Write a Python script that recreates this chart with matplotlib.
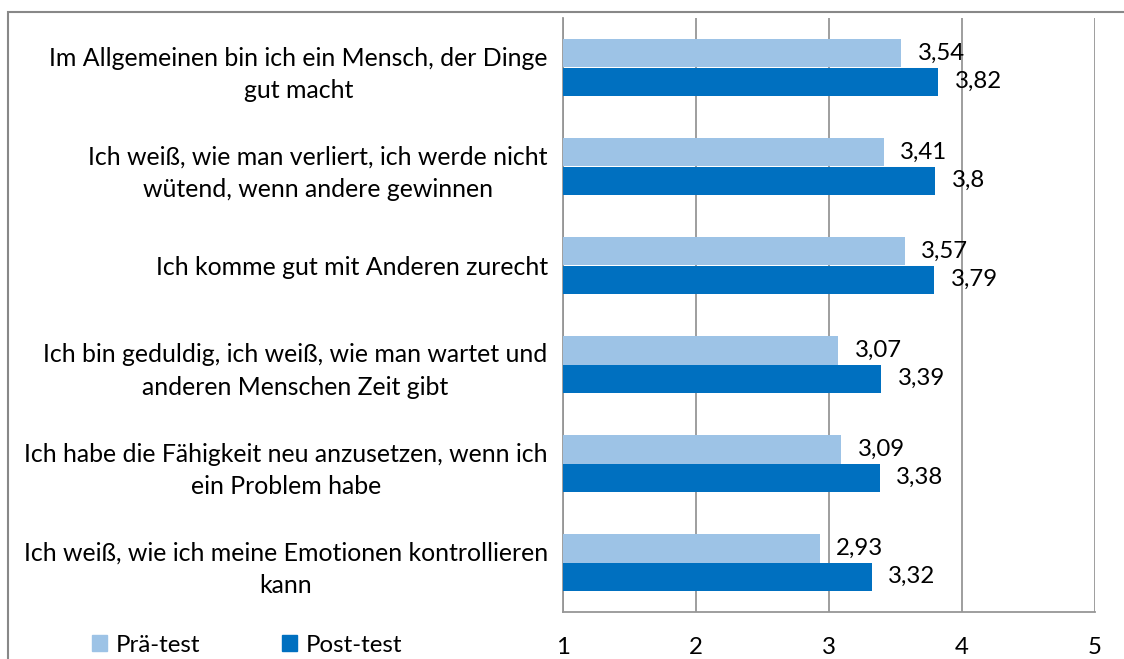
import matplotlib
matplotlib.use("Agg")
import matplotlib.pyplot as plt
from matplotlib.patches import Rectangle

categories = [
    "Im Allgemeinen bin ich ein Mensch, der Dinge\ngut macht",
    "Ich weiß, wie man verliert, ich werde nicht\nwütend, wenn andere gewinnen",
    "Ich komme gut mit Anderen zurecht",
    "Ich bin geduldig, ich weiß, wie man wartet und\nanderen Menschen Zeit gibt",
    "Ich habe die Fähigkeit neu anzusetzen, wenn ich\nein Problem habe",
    "Ich weiß, wie ich meine Emotionen kontrollieren\nkann",
]
pre_values = [3.54, 3.41, 3.57, 3.07, 3.09, 2.93]
post_values = [3.82, 3.80, 3.79, 3.39, 3.38, 3.32]
pre_labels = ["3,54", "3,41", "3,57", "3,07", "3,09", "2,93"]
post_labels = ["3,82", "3,8", "3,79", "3,39", "3,38", "3,32"]
series_names = ["Prä-test", "Post-test"]
x_ticks = [1, 2, 3, 4, 5]

pre_color = "#9DC3E6"
post_color = "#0070C0"
grid_color = "#969696"
FONT = "Lato"
FS = 17.3
FS_CAT = 17.9

plt.rcParams['font.family'] = [FONT, 'DejaVu Sans']

fig = plt.figure(figsize=(11.24, 6.59), dpi=100)
ax = fig.add_axes([563/1124, 1-612/659, (1095-563)/1124, (612-18)/659])

n = len(categories)
ypos = list(range(n))
h = 0.285
pre_y = [y - h/2 for y in ypos]
post_y = [y + h/2 for y in ypos]
ax.barh(pre_y, [v - 1 for v in pre_values], left=1, height=h, color=pre_color, zorder=3)
ax.barh(post_y, [v - 1 for v in post_values], left=1, height=h, color=post_color, zorder=3)

for y, v, t in zip(pre_y, pre_values, pre_labels):
    ax.text(v + 0.125, y, t, va="center", ha="left", fontsize=FS, color="black", zorder=4)
for y, v, t in zip(post_y, post_values, post_labels):
    ax.text(v + 0.125, y, t, va="center", ha="left", fontsize=FS, color="black", zorder=4)

ax.set_xlim(1, 5)
ax.set_ylim(n - 0.5, -0.5)
ax.set_xticks(x_ticks)
ax.set_xticklabels([str(t) for t in x_ticks], fontsize=FS)
ax.tick_params(axis="x", length=0, pad=18)
ax.set_yticks(ypos)
ax.set_yticklabels(categories, fontsize=FS_CAT, multialignment="center", linespacing=1.5)
ax.tick_params(axis="y", length=0, pad=11)
ax.grid(axis="x", color=grid_color, linewidth=1.3, zorder=0)
for s in ["top", "right"]:
    ax.spines[s].set_visible(False)
for s in ["left", "bottom"]:
    ax.spines[s].set_color(grid_color)
    ax.spines[s].set_linewidth(1.3)

# legend
handles = [Rectangle((0, 0), 1, 1, color=pre_color), Rectangle((0, 0), 1, 1, color=post_color)]
fig.legend(handles, series_names, loc="center left", bbox_to_anchor=(70/1124, 1-645/659),
           ncol=2, frameon=False, fontsize=FS, handlelength=0.65, handleheight=0.65,
           handletextpad=0.35, columnspacing=3.4)

# chart border
fig.patches.append(Rectangle((8/1124, -0.05), 1.1, 1-12/659+0.05, transform=fig.transFigure,
                             fill=False, edgecolor="#888888", linewidth=1.5))

fig.savefig("out.png", dpi=100)
